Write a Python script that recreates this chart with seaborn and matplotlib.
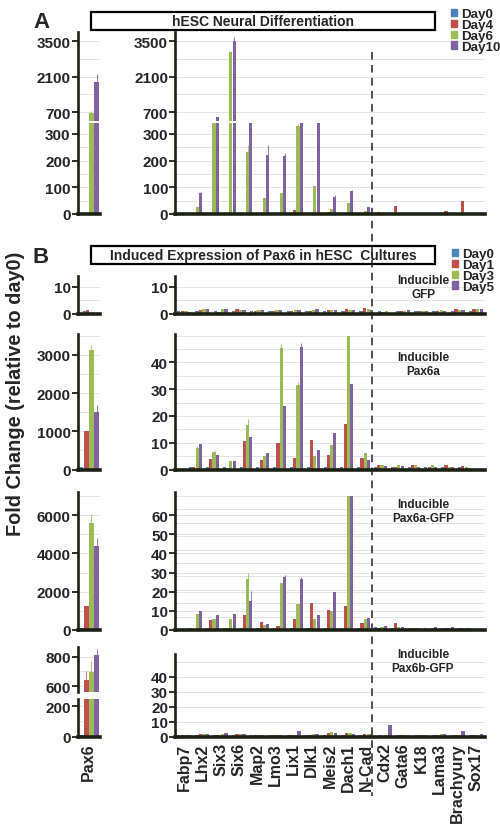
import numpy as np
import pandas as pd
import seaborn as sns
import matplotlib.pyplot as plt
from matplotlib.patches import Rectangle
from matplotlib.lines import Line2D

#%% DATA
GENES = ['Fabp7', 'Lhx2', 'Six3', 'Six6', 'Map2', 'Lmo3', 'Lix1', 'Dlk1',
         'Meis2', 'Dach1', 'N-Cad', 'Cdx2', 'Gata6', 'K18', 'Lama3',
         'Brachyury', 'Sox17']
DAYS_A = ['Day0', 'Day4', 'Day6', 'Day10']
DAYS_B = ['Day0', 'Day1', 'Day3', 'Day5']
COLORS = ['#4f81bd', '#c0504d', '#9bbb59', '#8064a2']

# A: hESC neural differentiation
A_pax6 = [1, 5, 650, 1900]
A_day0 = [1, 1, 1, 1, 1, 1, 1, 1, 1, 1, 1, 1, 1, 1, 1, 1, 1]
A_day4 = [2, 1, 1, 5, 2, 3, 16, 1, 6, 2, 1, 6, 29, 2, 1, 13, 50]
A_day6 = [25, 345, 3060, 232, 60, 79, 330, 104, 19, 40, 10, 1, 1, 2, 1, 1, 1]
A_day10 = [78, 510, 3520, 345, 222, 219, 345, 345, 65, 85, 25, 1, 1, 2, 1, 1, 1]
A_err = {('Pax6', 2): 90, ('Pax6', 3): 300, ('Fabp7', 3): 5, ('Six3', 2): 60,
         ('Six3', 3): 150, ('Six6', 2): 28, ('Map2', 3): 38, ('Lmo3', 3): 10,
         ('Lix1', 2): 8, ('Meis2', 3): 5, ('Dach1', 3): 6}

# B: inducible GFP
G_pax6 = [0.8, 1.2, 0.7, 0.7]
G_day0 = [1, 1, 0.8, 1, 0.9, 1, 0.8, 1, 1, 1, 1, 1, 1, 1, 1, 1, 1]
G_day1 = [1, 1.3, 0.5, 1.8, 0.8, 0.8, 1, 1, 1.2, 1.8, 2.2, 0.5, 1, 1, 0.8, 1.8, 1.8]
G_day3 = [0.8, 1.8, 1.5, 1.2, 1.2, 1.3, 1.2, 1.3, 1.2, 1.2, 1.5, 0.8, 1, 1, 1.2, 1.3, 1.8]
G_day5 = [0.7, 1.8, 1.5, 1.2, 1.2, 1.3, 1.2, 1.5, 1.3, 1.2, 1.2, 0.3, 1.2, 1, 0.8, 1.2, 1.5]
G_err = {}

# B: inducible Pax6a
P_pax6 = [60, 1020, 3130, 1500]
P_day0 = [1, 1, 1, 1, 1, 1, 1, 1, 1, 1, 1, 1, 1, 1, 1, 1, 1]
P_day1 = [1, 4, 0.5, 10.5, 3.5, 10, 4.2, 10.9, 5.6, 17.1, 4.4, 1.5, 1, 1.5, 1, 1.5, 1.3]
P_day3 = [8, 6.5, 3, 16.5, 5, 45.5, 31.6, 5, 9.1, 50, 6, 1.5, 1.5, 1.5, 1.5, 1, 1]
P_day5 = [9.5, 5.5, 3, 12, 6.2, 23.7, 45.6, 7.2, 13.7, 32, 3.7, 1.2, 1.2, 1, 0.8, 1, 0.5]
P_err = {('Pax6', 2): 120, ('Pax6', 3): 200, ('Six6', 2): 2.2, ('Lmo3', 2): 1.5,
         ('Lix1', 2): 1, ('Lix1', 3): 1.5, ('Fabp7', 2): 0.8, ('Lhx2', 2): 0.8}

# B: inducible Pax6a-GFP
Q_pax6 = [100, 1270, 5570, 4400]
Q_day0 = [1, 1, 1, 1, 1, 1, 1, 1, 1, 1, 1, 1.5, 1, 1, 1, 1, 1]
Q_day1 = [0.5, 5, 1, 8, 4, 2, 6, 14, 10.3, 12.7, 3.8, 1, 3.5, 0.8, 0.5, 0.8, 1.2]
Q_day3 = [8.5, 5.5, 6, 26.5, 2.5, 24.5, 13.5, 6, 9.8, 70, 5.5, 1.5, 1.8, 1, 1, 1, 1.2]
Q_day5 = [10, 7.7, 8.5, 15.3, 3, 27.5, 26.5, 7.7, 19.7, 70, 6.4, 2.2, 1.5, 1, 1.8, 1.5, 0.8]
Q_err = {('Pax6', 2): 500, ('Pax6', 3): 400, ('Six6', 2): 3, ('Six6', 3): 5,
         ('Lmo3', 3): 1, ('Lix1', 3): 1}

# B: inducible Pax6b-GFP
R_pax6 = [10, 642, 693, 810]
R_day0 = [1, 1, 1, 1, 1, 1, 1, 1, 1, 1, 1, 1, 1, 1, 1, 1, 1]
R_day1 = [0.8, 2, 1, 1.5, 1, 1, 1, 1, 2.5, 2.3, 1.5, 0.5, 1, 1, 0.8, 1, 0.8]
R_day3 = [1, 1.8, 1.5, 2, 1, 1, 1.2, 1.5, 3, 2.3, 1.8, 1, 0.8, 1, 1.5, 1, 1.2]
R_day5 = [0.8, 1.5, 2.5, 1.5, 1.3, 1, 3.8, 1.8, 2.7, 2, 1.5, 7.5, 1, 1, 1.5, 3.5, 2]
R_err = {('Pax6', 1): 60, ('Pax6', 2): 80, ('Pax6', 3): 40}

#%% STYLE
sns.set_theme(style='white')
plt.rcParams['font.family'] = ['Liberation Sans', 'DejaVu Sans']
plt.rcParams['font.weight'] = 'bold'
DARK = '#1b2213'
W, H = 500, 829
fig = plt.figure(figsize=(W / 100, H / 100), dpi=100)


def rect(x0, x1, y0, y1):
    # pixel box (top-left origin) -> figure fraction
    return [x0 / W, 1 - y1 / H, (x1 - x0) / W, (y1 - y0) / H]


def long_df(genes, cols, days):
    rows = [(g, d, cols[k][i]) for k, d in enumerate(days) for i, g in enumerate(genes)]
    return pd.DataFrame(rows, columns=['gene', 'day', 'value'])


def draw(box, genes, cols, days, errs, width, ylim, ticks, grid,
         xlabels=False, top_part=False):
    ax = fig.add_axes(rect(*box))
    df = long_df(genes, cols, days)
    sns.barplot(data=df, x='gene', y='value', hue='day', order=genes,
                hue_order=days, palette=COLORS, width=width, gap=0.05,
                saturation=1, errorbar=None, legend=False, linewidth=0, ax=ax)
    bar_conts = list(ax.containers)
    for k, cont in enumerate(bar_conts):
        for i, bar in enumerate(cont):
            e = errs.get((genes[i], k))
            if e:
                ax.errorbar(bar.get_x() + bar.get_width() / 2, bar.get_height(),
                            yerr=[[0], [e]], color=COLORS[k], lw=0.8,
                            capsize=0, alpha=0.8)
    ax.set_ylim(*ylim)
    ax.set_yticks(ticks)
    ax.set_yticks(grid, minor=True)
    ax.set_axisbelow(True)
    ax.grid(which='both', axis='y', color='#e4e4e4', lw=0.7)
    ax.grid(axis='x', visible=False)
    ax.tick_params(axis='y', which='major', length=4, width=1.3, color=DARK,
                   labelsize=11, pad=1, left=True)
    ax.tick_params(axis='y', which='minor', length=0)
    ax.tick_params(axis='x', length=0)
    for s in ['top', 'right']:
        ax.spines[s].set_visible(False)
    ax.spines['left'].set_color(DARK)
    ax.spines['left'].set_linewidth(1.9)
    ax.spines['bottom'].set_color(DARK)
    ax.spines['bottom'].set_linewidth(2.6)
    if top_part:
        ax.spines['bottom'].set_visible(False)
    if xlabels:
        ax.set_xticks(range(len(genes)))
        ax.set_xticklabels(genes, rotation=90, fontsize=11.5, fontweight='bold')
        ax.tick_params(axis='x', pad=4)
    else:
        ax.tick_params(axis='x', labelbottom=False)
    ax.set_xlabel('')
    ax.set_ylabel('')
    return ax


PAX = ['Pax6']
LX, MX = (77.5, 100), (175, 485)
WL, WM = 0.5, 0.78

# A (broken axes)
a_pax_cols = [[v] for v in A_pax6]
a_cols = [A_day0, A_day4, A_day6, A_day10]
draw((*LX, 33, 122), PAX, a_pax_cols, DAYS_A, A_err, WL, (350, 3870),
     [700, 2100, 3500], np.arange(700, 3600, 700), top_part=True)
draw((*LX, 124, 215), PAX, a_pax_cols, DAYS_A, A_err, WL, (0, 341),
     [0, 100, 200, 300], np.arange(0, 341, 50))
axA = draw((*MX, 33, 122), GENES, a_cols, DAYS_A, A_err, WM, (350, 3870),
           [700, 2100, 3500], np.arange(700, 3600, 700), top_part=True)
draw((*MX, 124, 215), GENES, a_cols, DAYS_A, A_err, WM, (0, 341),
     [0, 100, 200, 300], np.arange(0, 341, 50))

# B1 inducible GFP
draw((*LX, 277, 314.5), PAX, [[v] for v in G_pax6], DAYS_B, G_err, WL, (0, 14),
     [0, 10], [0, 5, 10])
axG = draw((*MX, 277, 314.5), GENES, [G_day0, G_day1, G_day3, G_day5], DAYS_B,
           G_err, WM, (0, 14), [0, 10], [0, 5, 10])

# B2 inducible Pax6a
draw((*LX, 335, 470.5), PAX, [[v] for v in P_pax6], DAYS_B, P_err, WL, (0, 3550),
     [0, 1000, 2000, 3000], np.arange(0, 3501, 500))
axP = draw((*MX, 335, 470.5), GENES, [P_day0, P_day1, P_day3, P_day5], DAYS_B,
           P_err, WM, (0, 50.6), [0, 10, 20, 30, 40], np.arange(0, 51, 5))

# B3 inducible Pax6a-GFP
draw((*LX, 493, 631), PAX, [[v] for v in Q_pax6], DAYS_B, Q_err, WL, (0, 7200),
     [0, 2000, 4000, 6000], np.arange(0, 7001, 1000))
axQ = draw((*MX, 493, 631), GENES, [Q_day0, Q_day1, Q_day3, Q_day5], DAYS_B,
           Q_err, WM, (0, 72), np.arange(0, 61, 10), np.arange(0, 71, 7))

# B4 inducible Pax6b-GFP (left broken)
r_pax_cols = [[v] for v in R_pax6]
draw((*LX, 648, 693), PAX, r_pax_cols, DAYS_B, R_err, WL, (562, 864),
     [600, 800], [600, 700, 800], top_part=True)
draw((*LX, 700, 737.7), PAX, r_pax_cols, DAYS_B, R_err, WL, (0, 248),
     [0, 200], [0, 100, 200], xlabels=True)
axR = draw((*MX, 655, 737.7), GENES, [R_day0, R_day1, R_day3, R_day5], DAYS_B,
           R_err, WM, (0, 55), [0, 10, 20, 30, 40], np.arange(0, 51, 10),
           xlabels=True)

#%% DECORATIONS
# dashed separator between neural and non-neural markers
disp = axA.transData.transform((10.5, 1000))
fx = fig.transFigure.inverted().transform(disp)[0]
fig.add_artist(Line2D([fx, fx], [1 - 53 / H, 1 - 797 / H], transform=fig.transFigure,
                      ls=(0, (5, 3.5)), color='#222222', lw=1.1))

# title boxes
for (y0, y1, txt) in [(13, 31, 'hESC Neural Differentiation'),
                      (247, 265, 'Induced Expression of Pax6 in hESC  Cultures')]:
    fig.add_artist(Rectangle((91 / W, 1 - y1 / H), (435 - 91) / W, (y1 - y0) / H,
                             transform=fig.transFigure, fill=False,
                             ec='black', lw=1.6))
    fig.text(263 / W, 1 - (y0 + y1) / 2 / H, txt, ha='center', va='center',
             fontsize=10, fontweight='bold')

fig.text(33 / W, 1 - 28 / H, 'A', fontsize=16, fontweight='bold', va='baseline')
fig.text(33 / W, 1 - 263 / H, 'B', fontsize=16, fontweight='bold', va='baseline')

fig.text(16 / W, 1 - 393.5 / H, 'Fold Change (relative to day0)', rotation=90,
         ha='center', va='center', fontsize=14.3, fontweight='bold')

# panel annotations
for ax, yf, name in [(axG, 0.707, 'GFP'), (axP, 0.78, 'Pax6a'),
                     (axQ, 0.864, 'Pax6a-GFP'), (axR, 0.92, 'Pax6b-GFP')]:
    ax.text(0.8, yf, 'Inducible\n' + name, transform=ax.transAxes, ha='center',
            va='center', fontsize=8.5, fontweight='bold', linespacing=1.2)

# legends
handles = [Rectangle((0, 0), 1, 1, color=c) for c in COLORS]
leg_kw = dict(loc='upper left', frameon=False, handlelength=0.45, handleheight=0.45,
              handletextpad=0.3, labelspacing=-0.08, borderaxespad=0, borderpad=0,
              prop={'weight': 'bold', 'size': 9.6})
fig.legend(handles, DAYS_A, bbox_to_anchor=(451 / W, 1 - 9 / H), **leg_kw)
fig.legend(handles, DAYS_B, bbox_to_anchor=(452 / W, 1 - 249 / H), **leg_kw)

plt.savefig('out.png', dpi=100, facecolor='white')
